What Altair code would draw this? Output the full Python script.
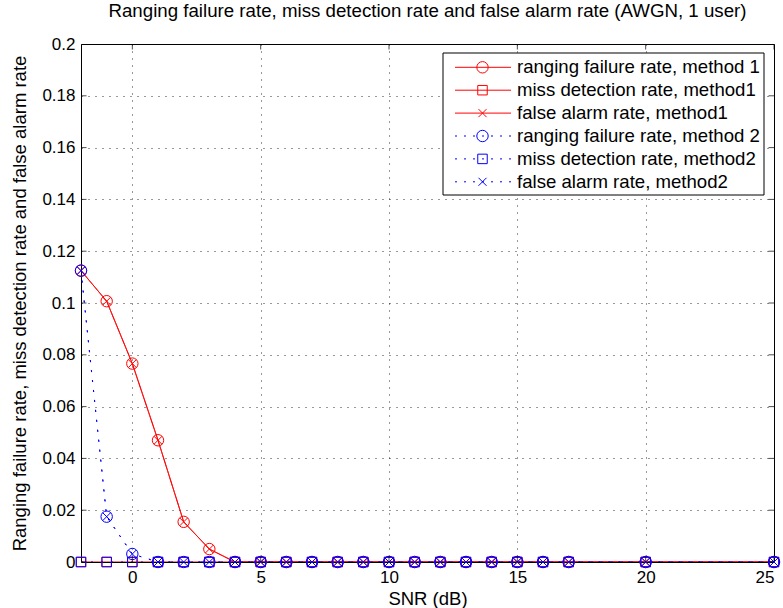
import altair as alt
import pandas as pd

# SNR grid (dB)
snr = [-2, -1, 0, 1, 2, 3, 4, 5, 6, 7, 8, 9, 10, 11, 12, 13, 14, 15, 16, 17, 20, 25]

# Method 1 rates
fail_m1 = [0.1125, 0.1007, 0.0766, 0.0470, 0.0155, 0.0050] + [0.0] * 16
miss_m1 = [0.0] * 22
fa_m1 = [0.1125, 0.1007, 0.0766, 0.0470, 0.0155, 0.0050] + [0.0] * 16

# Method 2 rates
fail_m2 = [0.1125, 0.0175, 0.0031] + [0.0] * 19
miss_m2 = [0.0] * 22
fa_m2 = [0.1125, 0.0175, 0.0031] + [0.0] * 19

x_ticks = [0, 5, 10, 15, 20, 25]
y_ticks = [0, 0.02, 0.04, 0.06, 0.08, 0.1, 0.12, 0.14, 0.16, 0.18, 0.2]

W, H = 693, 518
FONT = "Liberation Sans"
X_CROSS = "M-1,-1L1,1M-1,1L1,-1"
SOLID, DOTTED = [1, 0], [2, 8]

series = [
    ("ranging failure rate, method 1", fail_m1, "#ff0000", SOLID, "circle", 130),
    ("miss detection rate, method1", miss_m1, "#ff0000", SOLID, "square", 90),
    ("false alarm rate, method1", fa_m1, "#ff0000", SOLID, X_CROSS, 64),
    ("ranging failure rate, method 2", fail_m2, "#0000ff", DOTTED, "circle", 130),
    ("miss detection rate, method2", miss_m2, "#0000ff", DOTTED, "square", 90),
    ("false alarm rate, method2", fa_m2, "#0000ff", DOTTED, X_CROSS, 64),
]

xs = alt.Scale(domain=[-2, 25], nice=False, zero=False)
ys = alt.Scale(domain=[0, 0.2], nice=False)

x_axis = alt.Axis(values=x_ticks, title="SNR (dB)", grid=True, tickSize=0,
                  labelPadding=7, titlePadding=4, format="d")
y_axis = alt.Axis(values=y_ticks, title="Ranging failure rate, miss detection rate and false alarm rate",
                  grid=True, tickSize=0, labelPadding=6, titlePadding=12,
                  labelExpr="datum.value == 0 ? '0' : format(datum.value, '.2~f')")


def X(field):
    return alt.X(field, scale=xs, axis=x_axis)


def Y(field):
    return alt.Y(field, scale=ys, axis=y_axis)


layers = []
for label, vals, color, dash, shape, size in series:
    df = pd.DataFrame({"snr": snr, "rate": vals})
    base = alt.Chart(df)
    line = base.mark_line(color=color, strokeWidth=1, strokeDash=dash, clip=True).encode(
        x=X("snr:Q"), y=Y("rate:Q"))
    pts = base.mark_point(shape=shape, size=size, color=color, strokeWidth=1, filled=False,
                          opacity=1).encode(x=X("snr:Q"), y=Y("rate:Q"))
    layers += [line, pts]

# inward ticks on all four sides
xt = pd.DataFrame({"snr": x_ticks})
yt = pd.DataFrame({"rate": y_ticks})
for ypos in [0, H]:
    layers.append(alt.Chart(xt).mark_tick(color="black", size=11, thickness=1, clip=True).encode(
        x=X("snr:Q"), y=alt.value(ypos)))
for xpos in [0, W]:
    layers.append(alt.Chart(yt).mark_tick(color="black", size=11, thickness=1, clip=True).encode(
        y=Y("rate:Q"), x=alt.value(xpos)))

# legend box
LX0, LX1, LY0, LY1 = 443 - 81, 764 - 81, 53 - 44, 195 - 44
one = pd.DataFrame({"k": [0]})
layers.append(alt.Chart(one).mark_rect(fill="white", stroke="black", strokeWidth=1).encode(
    x=alt.value(LX0), x2=alt.value(LX1), y=alt.value(LY0), y2=alt.value(LY1)))
for i, (label, vals, color, dash, shape, size) in enumerate(series):
    yy = 23.3 + i * 22.9
    ldash = dash if dash == SOLID else [2, 7]
    layers.append(alt.Chart(one).mark_rule(color=color, strokeWidth=1, strokeDash=ldash).encode(
        x=alt.value(455 - 81), x2=alt.value(511 - 81), y=alt.value(yy)))
    layers.append(alt.Chart(one).mark_point(shape=shape, size=size, color=color, strokeWidth=1,
                                            filled=False, opacity=1).encode(
        x=alt.value(482.5 - 81), y=alt.value(yy)))
    layers.append(alt.Chart(one).mark_text(text=label, align="left", baseline="middle", font=FONT,
                                           fontSize=18.6, color="black").encode(
        x=alt.value(517 - 81), y=alt.value(yy)))

chart = alt.layer(*layers).properties(
    width=W, height=H,
    background="white",
    title=alt.TitleParams("Ranging failure rate, miss detection rate and false alarm rate (AWGN, 1 user)",
                          font=FONT, fontSize=18.7, fontWeight="normal", color="black", offset=14),
    autosize=alt.AutoSizeParams(type="none"),
    padding={"left": 81, "top": 44, "right": 9, "bottom": 46},
).configure_view(stroke="black", strokeWidth=1).configure_axis(
    domain=False, gridColor="black", gridDash=[1, 6], gridOpacity=0.8, gridWidth=1,
    labelFont=FONT, labelFontSize=17, labelColor="black",
    titleFont=FONT, titleFontSize=18.5, titleFontWeight="normal", titleColor="black",
)

chart.save("out.html", embed_options={"renderer": "svg", "actions": False})
